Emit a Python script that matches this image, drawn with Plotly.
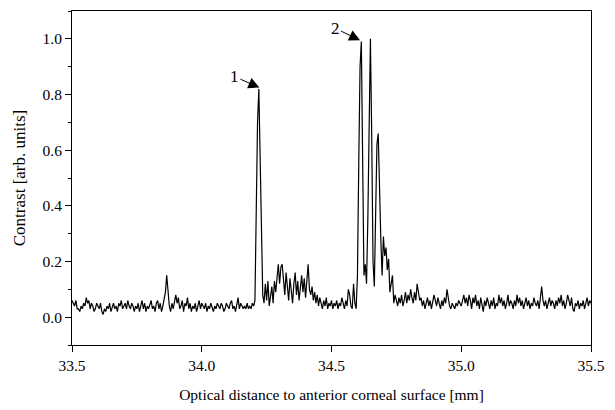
import plotly.graph_objects as go

# sampling of the trace (mm)
x_start = 33.5
x_step = 0.005

contrast = [
    0.06,0.05,0.04,0.06,0.03,0.03,0.02,0.04,0.03,0.05,0.04,0.07,0.05,0.06,0.03,0.05,0.04,0.02,0.03,0.05,
    0.04,0.03,0.05,0.02,0.01,0.03,0.02,0.04,0.03,0.05,0.02,0.04,0.05,0.03,0.04,0.02,0.05,0.04,0.06,0.03,
    0.04,0.05,0.03,0.06,0.04,0.03,0.05,0.04,0.02,0.04,0.03,0.05,0.02,0.04,0.06,0.03,0.05,0.02,0.04,0.03,
    0.05,0.06,0.03,0.04,0.02,0.05,0.06,0.03,0.05,0.02,0.04,0.06,0.09,0.15,0.10,0.04,0.02,0.05,0.03,0.06,
    0.08,0.05,0.07,0.03,0.04,0.06,0.02,0.05,0.04,0.07,0.03,0.05,0.02,0.04,0.03,0.05,0.02,0.04,0.06,0.03,
    0.05,0.04,0.03,0.05,0.02,0.04,0.03,0.05,0.03,0.02,0.04,0.03,0.05,0.04,0.03,0.05,0.04,0.02,0.03,0.05,
    0.04,0.03,0.05,0.06,0.03,0.04,0.02,0.04,0.07,0.03,0.05,0.04,0.03,0.04,0.03,0.05,0.03,0.04,0.03,0.05,
    0.04,0.06,0.35,0.70,0.82,0.55,0.28,0.08,0.05,0.12,0.06,0.13,0.04,0.08,0.11,0.05,0.13,0.09,0.15,0.19,
    0.12,0.18,0.19,0.14,0.08,0.16,0.11,0.06,0.14,0.09,0.05,0.12,0.16,0.08,0.13,0.06,0.10,0.15,0.09,0.14,
    0.07,0.12,0.19,0.10,0.08,0.11,0.06,0.09,0.05,0.08,0.04,0.07,0.05,0.03,0.06,0.04,0.07,0.03,0.05,0.04,
    0.06,0.03,0.05,0.04,0.06,0.03,0.05,0.04,0.07,0.05,0.03,0.06,0.04,0.10,0.08,0.04,0.03,0.12,0.05,0.03,
    0.15,0.55,0.90,0.99,0.60,0.15,0.19,0.12,0.35,0.80,1.00,0.65,0.20,0.11,0.35,0.62,0.66,0.40,0.28,0.15,
    0.29,0.22,0.25,0.17,0.21,0.09,0.12,0.15,0.05,0.08,0.06,0.04,0.07,0.05,0.08,0.04,0.06,0.09,0.05,0.08,
    0.06,0.10,0.07,0.05,0.09,0.06,0.12,0.08,0.06,0.07,0.04,0.06,0.03,0.05,0.07,0.04,0.06,0.03,0.05,0.08,
    0.06,0.04,0.07,0.05,0.03,0.06,0.04,0.07,0.05,0.10,0.06,0.04,0.03,0.05,0.04,0.03,0.05,0.04,0.06,0.05,
    0.04,0.06,0.08,0.05,0.07,0.04,0.08,0.06,0.03,0.07,0.05,0.08,0.04,0.06,0.03,0.07,0.05,0.02,0.06,0.04,
    0.07,0.05,0.03,0.06,0.04,0.07,0.03,0.05,0.04,0.08,0.05,0.07,0.04,0.06,0.03,0.05,0.08,0.04,0.06,0.05,
    0.03,0.06,0.04,0.08,0.05,0.07,0.04,0.06,0.03,0.05,0.07,0.04,0.06,0.03,0.05,0.04,0.07,0.05,0.04,0.06,
    0.03,0.07,0.11,0.06,0.04,0.06,0.03,0.05,0.07,0.04,0.06,0.05,0.03,0.06,0.04,0.07,0.05,0.08,0.04,0.06,
    0.03,0.05,0.08,0.06,0.04,0.07,0.03,0.02,0.05,0.04,0.06,0.03,0.05,0.04,0.06,0.03,0.05,0.07,0.04,0.06,0.05,
]

x_ticks = [33.5, 34.0, 34.5, 35.0, 35.5]
x_tick_labels = ["33.5", "34.0", "34.5", "35.0", "35.5"]
y_ticks = [0.0, 0.2, 0.4, 0.6, 0.8, 1.0]
y_tick_labels = ["0.0", "0.2", "0.4", "0.6", "0.8", "1.0"]

peak_labels = ["1", "2"]
peak_x = [34.222, 34.610]
peak_y = [0.825, 0.995]

FONT = "Liberation Serif, Times New Roman, serif"

fig = go.Figure()
fig.add_trace(go.Scatter(
    x0=x_start, dx=x_step, y=contrast, mode="lines",
    line=dict(color="black", width=1.2), showlegend=False, hoverinfo="skip",
))

offsets = [(-25, -11), (-25, -12)]
for lab, px, py, (ax, ay) in zip(peak_labels, peak_x, peak_y, offsets):
    fig.add_annotation(
        x=px, y=py, text=lab, showarrow=True, ax=ax, ay=ay,
        arrowhead=2, arrowsize=2.2, arrowwidth=1, arrowcolor="black",
        font=dict(family=FONT, size=17, color="black"),
    )

axis_common = dict(
    showline=True, linecolor="black", linewidth=1, mirror=True,
    ticks="outside", ticklen=6, tickcolor="black", tickwidth=1,
    showgrid=False, zeroline=False,
    tickfont=dict(family=FONT, size=15.5, color="black"),
)

fig.update_xaxes(
    range=[33.5, 35.5], tickvals=x_ticks, ticktext=x_tick_labels,
    title=dict(text="Optical distance to anterior corneal surface [mm]",
               font=dict(family=FONT, size=15.5, color="black"), standoff=16),
    **axis_common,
)
fig.update_yaxes(
    range=[-0.1, 1.1], tickvals=y_ticks, ticktext=y_tick_labels,
    minor=dict(dtick=0.1, tick0=0, ticks="outside", ticklen=3, tickcolor="black"),
    title=dict(text="Contrast [arb. units]",
               font=dict(family=FONT, size=17, color="black"), standoff=12),
    **axis_common,
)

fig.update_layout(
    width=615, height=410,
    margin=dict(l=72, r=17, t=10, b=60),
    paper_bgcolor="white", plot_bgcolor="white",
)

fig.write_html("out.html")
